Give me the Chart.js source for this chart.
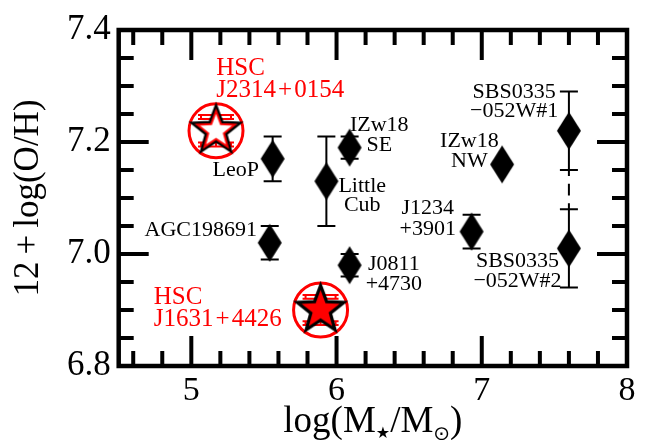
<!DOCTYPE html>
<html>
<head>
<meta charset="utf-8">
<script src="https://cdn.jsdelivr.net/npm/chart.js@4.4.1/dist/chart.umd.min.js"></script>
<style>
  html, body { margin: 0; padding: 0; background: #fff; }
  canvas { display: block; }
</style>
</head>
<body>
<canvas id="c" width="657" height="440"></canvas>
<script>
// Extremely metal-poor dwarf galaxies: stellar mass vs. oxygen abundance
const galaxyNames     = ['LeoP', 'Little Cub', 'IZw18 SE', 'AGC198691', 'J0811+4730', 'J1234+3901', 'IZw18 NW', 'SBS0335-052W#1', 'SBS0335-052W#2'];
const galaxyLogMass   = [5.56, 5.93, 6.09, 5.54, 6.09, 6.93, 7.14, 7.60, 7.60];
const galaxyOH        = [7.17, 7.13, 7.19, 7.02, 6.98, 7.04, 7.16, 7.22, 7.01];
const galaxyOHErrUp   = [0.04, 0.08, 0.02, 0.03, 0.02, 0.03, 0.00, 0.07, 0.07];
const galaxyOHErrDown = [0.04, 0.08, 0.02, 0.03, 0.02, 0.03, 0.00, 0.07, 0.07];

// HSC-selected objects
const hscNames      = ['J2314+0154', 'J1631+4426'];
const hscLogMass    = [5.17, 5.89];
const hscOH         = [7.22, 6.90];
const hscOHErrOuter = [0.028, 0.027];
const hscOHErrInner = [0.021, 0.020];

// dashed connection between the two SBS0335-052W regions
const linkLogMass  = [7.60];
const linkOHTop    = [7.15];
const linkOHBottom = [7.08];

const xTickLabels = [5, 6, 7, 8];
const yTickLabels = [6.8, 7.0, 7.2, 7.4];

const SERIF = '"Liberation Serif", "Times New Roman", serif';
const RED = '#ff0000';
const HAIR = '\u200A';

// text labels placed in data coordinates (baseline of first line)
const annotations = [
  { lines: ['HSC', 'J2314' + HAIR + '+' + HAIR + '0154'], x: 5.172, y: 7.319, align: 'left',   color: RED,    size: 25, lh: 21.5 },
  { lines: ['HSC', 'J1631' + HAIR + '+' + HAIR + '4426'], x: 4.741, y: 6.911, align: 'left',   color: RED,    size: 25, lh: 22 },
  { lines: ['LeoP'],                          x: 5.466, y: 7.140, align: 'right',  color: '#000', size: 22, lh: 20 },
  { lines: ['Little', 'Cub'],                 x: 6.177, y: 7.110, align: 'center', color: '#000', size: 22, lh: 19 },
  { lines: ['IZw18', 'SE'],                   x: 6.294, y: 7.219, align: 'center', color: '#000', size: 22, lh: 19.7 },
  { lines: ['AGC198691'],                     x: 5.452, y: 7.032, align: 'right',  color: '#000', size: 22, lh: 20 },
  { lines: ['J0811', '+4730'],                x: 6.395, y: 6.972, align: 'center', color: '#000', size: 22, lh: 20.6 },
  { lines: ['J1234', '+3901'],                x: 6.628, y: 7.071, align: 'center', color: '#000', size: 22, lh: 21 },
  { lines: ['IZw18', 'NW'],                   x: 6.915, y: 7.191, align: 'center', color: '#000', size: 22, lh: 19.7 },
  { lines: ['SBS0335', '\u2212052W#1'],       x: 7.223, y: 7.279, align: 'center', color: '#000', size: 22, lh: 19 },
  { lines: ['SBS0335', '\u2212052W#2'],       x: 7.246, y: 6.977, align: 'center', color: '#000', size: 22, lh: 20 }
];

// tall black diamond marker
function makeDiamond() {
  const w = 26, h = 40;
  const c = document.createElement('canvas');
  c.width = w; c.height = h;
  const g = c.getContext('2d');
  g.fillStyle = '#000';
  g.beginPath();
  g.moveTo(w / 2, 1); g.lineTo(w - 1, h / 2); g.lineTo(w / 2, h - 1); g.lineTo(1, h / 2);
  g.closePath();
  g.fill();
  return c;
}

// five-pointed star marker
function makeStar(fill, redInner) {
  const R = 24.5, r = R * 0.42, pad = 5, s = 2 * (R + pad);
  const c = document.createElement('canvas');
  c.width = s; c.height = s;
  const g = c.getContext('2d');
  g.translate(s / 2, s / 2);
  const starPath = (scale) => {
    const p = new Path2D();
    for (let k = 0; k < 10; k++) {
      const rad = (k % 2 ? r : R) * scale;
      const a = -Math.PI / 2 + k * Math.PI / 5;
      if (k === 0) p.moveTo(rad * Math.cos(a), rad * Math.sin(a));
      else p.lineTo(rad * Math.cos(a), rad * Math.sin(a));
    }
    p.closePath();
    return p;
  };
  const outer = starPath(1);
  g.fillStyle = fill;
  g.fill(outer);
  g.lineJoin = 'miter';
  g.strokeStyle = '#000';
  g.lineWidth = 3.2;
  g.stroke(outer);
  if (redInner) {
    g.strokeStyle = RED;
    g.lineWidth = 2;
    g.stroke(starPath(0.8));
  }
  return c;
}

const diamondImg = makeDiamond();
const starImgs = [makeStar('#ffffff', true), makeStar(RED, false)];

// error bars drawn beneath the markers
const errorBars = {
  id: 'errorBars',
  beforeDatasetsDraw(chart) {
    const { ctx } = chart;
    const xs = chart.scales.x, ys = chart.scales.y;
    ctx.save();
    ctx.strokeStyle = '#000';
    ctx.lineWidth = 2;
    ctx.lineCap = 'butt';
    galaxyLogMass.forEach((m, i) => {
      const up = galaxyOHErrUp[i], dn = galaxyOHErrDown[i];
      if (!up && !dn) return;
      const cx = xs.getPixelForValue(m);
      const yt = ys.getPixelForValue(galaxyOH[i] + up);
      const yb = ys.getPixelForValue(galaxyOH[i] - dn);
      ctx.beginPath();
      ctx.moveTo(cx, yt); ctx.lineTo(cx, yb);
      ctx.moveTo(cx - 9, yt); ctx.lineTo(cx + 9, yt);
      ctx.moveTo(cx - 9, yb); ctx.lineTo(cx + 9, yb);
      ctx.stroke();
    });
    // dashed segment joining the SBS0335 bars
    linkLogMass.forEach((m, i) => {
      const cx = xs.getPixelForValue(m);
      const yt = ys.getPixelForValue(linkOHTop[i]);
      const yb = ys.getPixelForValue(linkOHBottom[i]);
      const L = yb - yt;
      ctx.beginPath();
      ctx.moveTo(cx, yt); ctx.lineTo(cx, yt + 0.15 * L);
      ctx.moveTo(cx, yt + 0.35 * L); ctx.lineTo(cx, yt + 0.65 * L);
      ctx.moveTo(cx, yt + 0.85 * L); ctx.lineTo(cx, yb);
      ctx.stroke();
    });
    // red bars of the HSC objects
    ctx.strokeStyle = RED;
    ctx.lineWidth = 2;
    hscLogMass.forEach((m, i) => {
      const cx = xs.getPixelForValue(m);
      const w = 18;
      const yo1 = ys.getPixelForValue(hscOH[i] + hscOHErrOuter[i]);
      const yo2 = ys.getPixelForValue(hscOH[i] - hscOHErrOuter[i]);
      const yi1 = ys.getPixelForValue(hscOH[i] + hscOHErrInner[i]);
      const yi2 = ys.getPixelForValue(hscOH[i] - hscOHErrInner[i]);
      ctx.beginPath();
      ctx.moveTo(cx, yo1); ctx.lineTo(cx, yo2);
      [yo1, yo2, yi1, yi2].forEach(yy => { ctx.moveTo(cx - w, yy); ctx.lineTo(cx + w, yy); });
      [-w + 3, w - 3].forEach(dx => {
        ctx.moveTo(cx + dx, yo1 - 1); ctx.lineTo(cx + dx, yi1 + 1);
        ctx.moveTo(cx + dx, yi2 - 1); ctx.lineTo(cx + dx, yo2 + 1);
      });
      ctx.stroke();
    });
    ctx.restore();
  }
};

// text labels next to the points
const pointLabels = {
  id: 'pointLabels',
  afterDatasetsDraw(chart) {
    const { ctx } = chart;
    const xs = chart.scales.x, ys = chart.scales.y;
    ctx.save();
    ctx.textBaseline = 'alphabetic';
    annotations.forEach(a => {
      ctx.font = a.size + 'px ' + SERIF;
      ctx.fillStyle = a.color;
      ctx.textAlign = a.align;
      const px = xs.getPixelForValue(a.x);
      const py = ys.getPixelForValue(a.y);
      a.lines.forEach((t, k) => ctx.fillText(t, px, py + k * a.lh));
    });
    ctx.restore();
  }
};

// box frame with inward major and minor ticks on all four sides
const frame = {
  id: 'frame',
  afterDraw(chart) {
    const { ctx, chartArea: ca } = chart;
    const xs = chart.scales.x, ys = chart.scales.y;
    ctx.save();
    ctx.strokeStyle = '#000';
    ctx.lineCap = 'butt';
    const xMinor = [];
    for (let v = 4.6; v < 8; v += 0.2) {
      const r = Math.round(v * 10) / 10;
      if (Math.abs(r - Math.round(r)) > 1e-6) xMinor.push(r);
    }
    const yMinor = [];
    for (let v = 6.85; v < 7.4; v += 0.05) {
      const r = Math.round(v * 100) / 100;
      if (!yTickLabels.some(t => Math.abs(t - r) < 1e-6)) yMinor.push(r);
    }
    const tick = (list, len, lw) => {
      ctx.lineWidth = lw;
      ctx.beginPath();
      list.x.forEach(v => {
        const p = xs.getPixelForValue(v);
        ctx.moveTo(p, ca.bottom); ctx.lineTo(p, ca.bottom - len);
        ctx.moveTo(p, ca.top); ctx.lineTo(p, ca.top + len);
      });
      list.y.forEach(v => {
        const p = ys.getPixelForValue(v);
        ctx.moveTo(ca.left, p); ctx.lineTo(ca.left + len, p);
        ctx.moveTo(ca.right, p); ctx.lineTo(ca.right - len, p);
      });
      ctx.stroke();
    };
    tick({ x: xTickLabels, y: yTickLabels }, 30, 4);
    tick({ x: xMinor, y: yMinor }, 15, 4);
    ctx.lineWidth = 4.5;
    ctx.strokeRect(ca.left, ca.top, ca.right - ca.left, ca.bottom - ca.top);
    ctx.restore();
  }
};

// x-axis title with subscripts
const xTitle = {
  id: 'xTitle',
  afterDraw(chart) {
    const { ctx, chartArea: ca } = chart;
    const parts = [
      { t: 'log(M', size: 37, dy: 0, font: SERIF },
      { t: '\u2605', size: 16, dy: 6, font: '"DejaVu Sans", sans-serif' },
      { t: '/M', size: 37, dy: 0, font: SERIF },
      { t: '\u2299', size: 20, dy: 8, font: '"DejaVu Sans", sans-serif' },
      { t: ')', size: 37, dy: 0, font: SERIF }
    ];
    ctx.save();
    ctx.fillStyle = '#000';
    ctx.textBaseline = 'alphabetic';
    ctx.textAlign = 'left';
    let total = 0;
    parts.forEach(p => { ctx.font = p.size + 'px ' + p.font; p.w = ctx.measureText(p.t).width; total += p.w; });
    let x = (ca.left + ca.right) / 2 - total / 2;
    const base = 432;
    parts.forEach(p => {
      ctx.font = p.size + 'px ' + p.font;
      ctx.fillText(p.t, x, base + p.dy);
      x += p.w;
    });
    ctx.restore();
  }
};

new Chart(document.getElementById('c'), {
  type: 'scatter',
  data: {
    datasets: [
      {
        label: 'HSC',
        data: hscLogMass.map((m, i) => ({ x: m, y: hscOH[i] })),
        pointStyle: starImgs,
        pointRadius: 10
      },
      {
        label: 'HSC ring',
        data: hscLogMass.map((m, i) => ({ x: m, y: hscOH[i] })),
        pointStyle: 'circle',
        pointRadius: 27,
        borderColor: RED,
        borderWidth: 3,
        backgroundColor: 'rgba(0,0,0,0)'
      },
      {
        label: 'Dwarf galaxies',
        data: galaxyLogMass.map((m, i) => ({ x: m, y: galaxyOH[i] })),
        pointStyle: diamondImg,
        pointRadius: 10
      }
    ]
  },
  options: {
    responsive: false,
    animation: false,
    devicePixelRatio: 1,
    layout: { padding: { top: 24, right: 27, left: 0, bottom: 0 } },
    plugins: { legend: { display: false }, tooltip: { enabled: false } },
    scales: {
      x: {
        type: 'linear', min: 4.5, max: 8,
        grid: { display: false, drawTicks: false },
        border: { display: false },
        afterBuildTicks: s => { s.ticks = xTickLabels.map(v => ({ value: v })); },
        afterFit: s => { s.height = 74; },
        ticks: { color: '#000', padding: 5, font: { family: SERIF, size: 34 }, callback: v => String(v) }
      },
      y: {
        type: 'linear', min: 6.8, max: 7.4,
        grid: { display: false, drawTicks: false },
        border: { display: false },
        afterBuildTicks: s => { s.ticks = yTickLabels.map(v => ({ value: v })); },
        afterFit: s => { s.width = 118.7; },
        ticks: { color: '#000', padding: 8, font: { family: SERIF, size: 35 }, callback: v => Number(v).toFixed(1) },
        title: {
          display: true,
          text: '12\u2009+\u2009log(O/H)',
          color: '#000',
          padding: { top: 8, bottom: 0 },
          font: { family: SERIF, size: 35 }
        }
      }
    }
  },
  plugins: [errorBars, pointLabels, frame, xTitle]
});
</script>
</body>
</html>
